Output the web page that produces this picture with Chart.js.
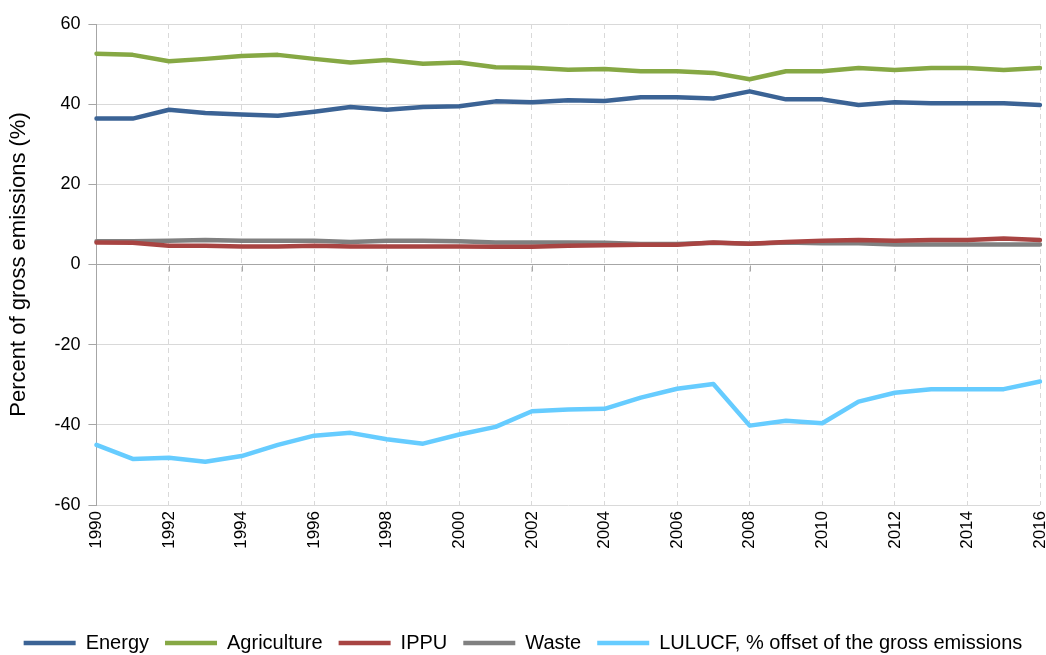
<!DOCTYPE html>
<html>
<head>
<meta charset="utf-8">
<script src="https://cdn.jsdelivr.net/npm/chart.js@4"></script>
<style>
  body { margin: 0; background: #fff; }
</style>
</head>
<body>
<canvas id="myChart" width="1046" height="655"></canvas>
<script>
var years = ['1990','1991','1992','1993','1994','1995','1996','1997','1998','1999','2000','2001','2002','2003',
  '2004','2005','2006','2007','2008','2009','2010','2011','2012','2013','2014','2015','2016'];

var energy = [36.4, 36.4, 38.6, 37.8, 37.4, 37.1, 38.1, 39.3, 38.6, 39.3, 39.5, 40.7, 40.5, 41.0,
  40.8, 41.7, 41.7, 41.4, 43.2, 41.2, 41.2, 39.8, 40.5, 40.2, 40.2, 40.2, 39.8];
var agriculture = [52.6, 52.3, 50.7, 51.3, 52.0, 52.3, 51.3, 50.4, 51.0, 50.1, 50.4, 49.2, 49.1, 48.6,
  48.8, 48.2, 48.2, 47.8, 46.2, 48.2, 48.2, 49.0, 48.5, 49.0, 49.0, 48.5, 49.0];
var ippu = [5.5, 5.4, 4.7, 4.7, 4.5, 4.5, 4.7, 4.5, 4.5, 4.5, 4.5, 4.4, 4.4, 4.7,
  4.8, 4.9, 4.9, 5.5, 5.2, 5.6, 5.9, 6.1, 5.9, 6.1, 6.1, 6.5, 6.1];
var waste = [5.8, 5.8, 5.9, 6.1, 5.9, 5.9, 5.9, 5.6, 5.9, 5.9, 5.8, 5.5, 5.5, 5.5,
  5.4, 5.1, 5.1, 5.4, 5.2, 5.5, 5.3, 5.3, 5.0, 5.0, 5.0, 5.0, 5.0];
var lulucf = [-45.0, -48.5, -48.2, -49.2, -47.8, -45.0, -42.7, -42.0, -43.6, -44.7, -42.4, -40.5, -36.6, -36.2,
  -36.0, -33.2, -31.0, -29.8, -40.2, -39.0, -39.6, -34.2, -32.0, -31.1, -31.1, -31.1, -29.2];

var yTicks = [60, 40, 20, 0, -20, -40, -60];

// zero line tick marks below it at labelled years
var zeroTicks = {
  id: 'zeroTicks',
  afterDatasetsDraw: function(chart) {
    var ctx = chart.ctx;
    var x = chart.scales.x, y = chart.scales.y;
    var y0 = Math.round(y.getPixelForValue(0)) + 0.5;
    ctx.save();
    ctx.strokeStyle = '#a6a6a6';
    ctx.lineWidth = 1;
    ctx.beginPath();
    for (var i = 0; i < years.length; i += 2) {
      var px = Math.round(x.getPixelForValue(i)) + 0.5;
      ctx.moveTo(px, y0);
      ctx.lineTo(px, y0 + 6);
    }
    ctx.stroke();
    ctx.restore();
  }
};

function line(label, data, color) {
  return {
    label: label,
    data: data,
    borderColor: color,
    backgroundColor: color,
    borderWidth: 4.5,
    pointRadius: 0,
    pointHoverRadius: 0,
    pointStyle: 'line',
    tension: 0,
    borderJoinStyle: 'round',
    borderCapStyle: 'round',
    fill: false
  };
}

var ctx = document.getElementById('myChart');
var myChart = new Chart(ctx, {
  type: 'line',
  data: {
    labels: years,
    datasets: [
      line('Energy', energy, '#3b6395'),
      line('Agriculture', agriculture, '#86a844'),
      line('IPPU', ippu, '#a84442'),
      line('Waste', waste, '#808080'),
      line('LULUCF, % offset of the gross emissions', lulucf, '#66ccff')
    ]
  },
  plugins: [zeroTicks],
  options: {
    responsive: false,
    animation: false,
    layout: { padding: { left: 6, right: 6, top: 24, bottom: -8 } },
    plugins: {
      legend: {
        position: 'bottom',
        labels: {
          usePointStyle: true,
          pointStyleWidth: 52,
          boxHeight: 10,
          padding: 16,
          color: '#000',
          font: { family: 'Liberation Sans', size: 20 }
        }
      },
      tooltip: { enabled: false }
    },
    scales: {
      x: {
        offset: false,
        afterFit: function(scale) {
          scale.height = 112;
          scale.paddingLeft = 0;
          scale.paddingRight = 0;
        },
        grid: {
          color: function(c) { return c.index % 2 === 0 ? '#d9d9d9' : 'rgba(0,0,0,0)'; },
          drawTicks: false
        },
        border: { display: false, dash: [5, 4] },
        ticks: {
          autoSkip: false,
          minRotation: 90,
          maxRotation: 90,
          padding: 6,
          color: '#000',
          font: { family: 'Liberation Sans', size: 17 },
          callback: function(v, i) { return i % 2 === 0 ? years[i] : ''; }
        }
      },
      y: {
        min: -60,
        max: 60,
        afterBuildTicks: function(scale) {
          scale.ticks = yTicks.map(function(v) { return { value: v }; });
        },
        grid: {
          color: function(c) { return c.tick && c.tick.value === 0 ? '#a6a6a6' : '#d9d9d9'; },
          tickColor: '#a6a6a6',
          tickLength: 8
        },
        border: { color: '#a6a6a6' },
        ticks: {
          padding: 8,
          color: '#000',
          font: { family: 'Liberation Sans', size: 18 }
        },
        title: {
          display: true,
          text: 'Percent of gross emissions (%)',
          color: '#000',
          padding: { top: 0, bottom: 14 },
          font: { family: 'Liberation Sans', size: 22 }
        }
      }
    }
  }
});
</script>
</body>
</html>
